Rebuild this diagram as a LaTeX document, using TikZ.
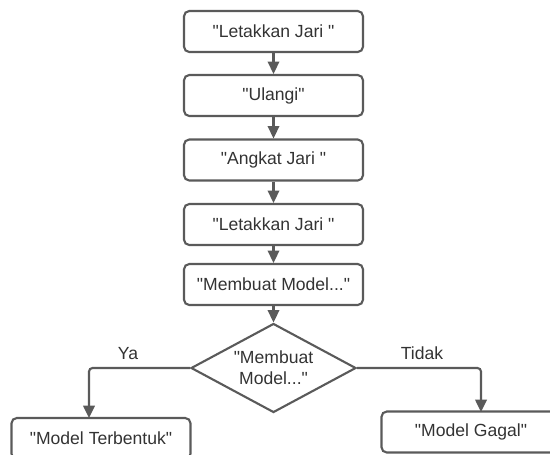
\documentclass[tikz,border=0pt]{standalone}
\usepackage{fontspec}
\setmainfont[Ligatures=TeXOff]{Liberation Sans}
\usetikzlibrary{shapes.geometric,arrows.meta}
\definecolor{linegray}{HTML}{5A5A5A}
\definecolor{textgray}{HTML}{333333}
\tikzset{
	stepbox/.style={draw=linegray, line width=1.2pt, rounded corners=3pt, minimum width=3.58cm, minimum height=0.82cm, inner sep=0pt, text=textgray, font=\fontsize{10}{12}\selectfont},
	decbox/.style={draw=linegray, line width=1.2pt, shape=diamond, aspect=1.85, minimum width=3.3cm, minimum height=1.78cm, inner sep=0pt, align=center, text=textgray, font=\fontsize{10}{12}\selectfont},
	arr/.style={draw=linegray, line width=1.2pt, rounded corners=2pt, -{Triangle[length=7pt,width=6.5pt]}},
	lbl/.style={text=textgray, font=\fontsize{10}{12}\selectfont}
}

\begin{document}
\begin{tikzpicture}
		%%%%% START %%%%%
		\useasboundingbox (0, 0) rectangle (11, -9.08);
		\clip (0, 0) rectangle (11, -9.08);
		
		\node[stepbox] (put1) at (5.47, -0.63) {"Letakkan Jari "};
		\node[stepbox] (again) at (5.47, -1.91) {"Ulangi"};
		\node[stepbox] (lift) at (5.47, -3.20) {"Angkat Jari "};
		\node[stepbox] (put2) at (5.47, -4.49) {"Letakkan Jari "};
		\node[stepbox] (build) at (5.47, -5.69) {"Membuat Model..."};
		
		\node[decbox] (check) at (5.47, -7.36) {"Membuat\\Model..."};
		
		\node[stepbox] (done) at (2.02, -8.77) {"Model Terbentuk"};
		\node[stepbox] (fail) at (9.42, -8.64) {"Model Gagal"};
		
		\draw[arr] (put1) -- (again);
		\draw[arr] (again) -- (lift);
		\draw[arr] (lift) -- (put2);
		\draw[arr] (put2) -- (build);
		\draw[arr] (build) -- (check);
		
		\coordinate (yaend) at (1.78, -8.36);
		\coordinate (tidakend) at (9.62, -8.24);
		\draw[arr] (check.west) -| (yaend);
		\draw[arr] (check.east) -| (tidakend);
		
		\node[lbl] (ya) at (2.56, -7.08) {Ya};
		\node[lbl] (tidak) at (8.44, -7.06) {Tidak};
		
		%%%%% END %%%%%
	\end{tikzpicture}
\end{document}
